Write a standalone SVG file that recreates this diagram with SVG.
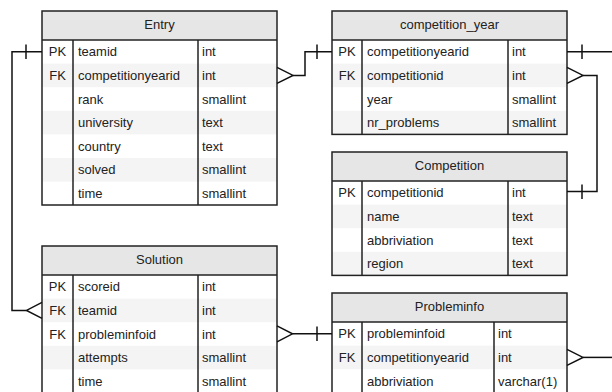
<svg xmlns="http://www.w3.org/2000/svg" width="612" height="392" viewBox="0 0 612 392">
<style>
text{font-family:"Liberation Sans",Arial,sans-serif;font-size:13px;fill:#222}
.hd{fill:#e6e6e6}
.alt{fill:#f4f4f4}
.bg{fill:#ffffff}
.frame{fill:none;stroke:#222;stroke-width:1.5}
.div{stroke:#222;stroke-width:1.5}
.c{text-anchor:middle}
.conn path,.conn line{fill:none;stroke:#111;stroke-width:1.5}
</style>
<rect width="612" height="392" fill="#fff"/>

<!-- Entry -->
<g id="entry">
<rect class="bg" x="42" y="11" width="235" height="194"/>
<rect class="hd" x="42" y="11" width="235" height="29"/>
<rect class="alt" x="42" y="63.6" width="235" height="23.6"/>
<rect class="alt" x="42" y="110.8" width="235" height="23.6"/>
<rect class="alt" x="42" y="158" width="235" height="23.6"/>
<rect class="frame" x="42" y="11" width="235" height="194"/>
<line class="div" x1="42" y1="40" x2="277" y2="40"/>
<line class="div" x1="73" y1="40" x2="73" y2="205"/>
<line class="div" x1="198" y1="40" x2="198" y2="205"/>
<text class="c" x="159.5" y="29">Entry</text>
<text class="c" x="57.5" y="56.3">PK</text><text x="78" y="56.3">teamid</text><text x="202" y="56.3">int</text>
<text class="c" x="57.5" y="79.9">FK</text><text x="78" y="79.9">competitionyearid</text><text x="202" y="79.9">int</text>
<text x="78" y="103.5">rank</text><text x="202" y="103.5">smallint</text>
<text x="78" y="127.1">university</text><text x="202" y="127.1">text</text>
<text x="78" y="150.7">country</text><text x="202" y="150.7">text</text>
<text x="78" y="174.3">solved</text><text x="202" y="174.3">smallint</text>
<text x="78" y="197.9">time</text><text x="202" y="197.9">smallint</text>
</g>

<!-- competition_year -->
<g id="competition_year">
<rect class="bg" x="332" y="11" width="235" height="123.4"/>
<rect class="hd" x="332" y="11" width="235" height="29"/>
<rect class="alt" x="332" y="63.6" width="235" height="23.6"/>
<rect class="alt" x="332" y="110.8" width="235" height="23.6"/>
<rect class="frame" x="332" y="11" width="235" height="123.4"/>
<line class="div" x1="332" y1="40" x2="567" y2="40"/>
<line class="div" x1="362" y1="40" x2="362" y2="134.4"/>
<line class="div" x1="508" y1="40" x2="508" y2="134.4"/>
<text class="c" x="449.5" y="29">competition_year</text>
<text class="c" x="347" y="56.3">PK</text><text x="367" y="56.3">competitionyearid</text><text x="512" y="56.3">int</text>
<text class="c" x="347" y="79.9">FK</text><text x="367" y="79.9">competitionid</text><text x="512" y="79.9">int</text>
<text x="367" y="103.5">year</text><text x="512" y="103.5">smallint</text>
<text x="367" y="127.1">nr_problems</text><text x="512" y="127.1">smallint</text>
</g>

<!-- Competition -->
<g id="competition">
<rect class="bg" x="332" y="152" width="235" height="123.4"/>
<rect class="hd" x="332" y="152" width="235" height="29"/>
<rect class="alt" x="332" y="204.6" width="235" height="23.6"/>
<rect class="alt" x="332" y="251.8" width="235" height="23.6"/>
<rect class="frame" x="332" y="152" width="235" height="123.4"/>
<line class="div" x1="332" y1="181" x2="567" y2="181"/>
<line class="div" x1="362" y1="181" x2="362" y2="275.4"/>
<line class="div" x1="508" y1="181" x2="508" y2="275.4"/>
<text class="c" x="449.5" y="170">Competition</text>
<text class="c" x="347" y="197.3">PK</text><text x="367" y="197.3">competitionid</text><text x="512" y="197.3">int</text>
<text x="367" y="220.9">name</text><text x="512" y="220.9">text</text>
<text x="367" y="244.5">abbriviation</text><text x="512" y="244.5">text</text>
<text x="367" y="268.1">region</text><text x="512" y="268.1">text</text>
</g>

<!-- Solution -->
<g id="solution">
<rect class="bg" x="42" y="246" width="235" height="150"/>
<rect class="hd" x="42" y="246" width="235" height="29"/>
<rect class="alt" x="42" y="298.6" width="235" height="23.6"/>
<rect class="alt" x="42" y="345.8" width="235" height="23.6"/>
<rect class="frame" x="42" y="246" width="235" height="150"/>
<line class="div" x1="42" y1="275" x2="277" y2="275"/>
<line class="div" x1="73" y1="275" x2="73" y2="396"/>
<line class="div" x1="198" y1="275" x2="198" y2="396"/>
<text class="c" x="159.5" y="264">Solution</text>
<text class="c" x="57.5" y="291.3">PK</text><text x="78" y="291.3">scoreid</text><text x="202" y="291.3">int</text>
<text class="c" x="57.5" y="314.9">FK</text><text x="78" y="314.9">teamid</text><text x="202" y="314.9">int</text>
<text class="c" x="57.5" y="338.5">FK</text><text x="78" y="338.5">probleminfoid</text><text x="202" y="338.5">int</text>
<text x="78" y="362.1">attempts</text><text x="202" y="362.1">smallint</text>
<text x="78" y="385.7">time</text><text x="202" y="385.7">smallint</text>
</g>

<!-- Probleminfo -->
<g id="probleminfo">
<rect class="bg" x="332" y="293" width="235" height="103"/>
<rect class="hd" x="332" y="293" width="235" height="29"/>
<rect class="alt" x="332" y="345.6" width="235" height="23.6"/>
<rect class="frame" x="332" y="293" width="235" height="103"/>
<line class="div" x1="332" y1="322" x2="567" y2="322"/>
<line class="div" x1="362" y1="322" x2="362" y2="396"/>
<line class="div" x1="494" y1="322" x2="494" y2="396"/>
<text class="c" x="449.5" y="311">Probleminfo</text>
<text class="c" x="347" y="338.3">PK</text><text x="367" y="338.3">probleminfoid</text><text x="498" y="338.3">int</text>
<text class="c" x="347" y="361.9">FK</text><text x="367" y="361.9">competitionyearid</text><text x="498" y="361.9">int</text>
<text x="367" y="385.5">abbriviation</text><text x="498" y="385.5">varchar(1)</text>
</g>

<!-- Connectors -->
<g id="connectors" class="conn">
<!-- Entry.teamid -> Solution.teamid -->
<path d="M42,51.8 H12 V310.4 H26.5"/>
<line x1="26" y1="44.5" x2="26" y2="59"/>
<path d="M42,302.4 L26.5,310.4 L42,318.4"/>
<!-- Entry.competitionyearid -> competition_year.competitionyearid -->
<path d="M277,67.4 L293,75.4 L277,83.4"/>
<path d="M293,75.4 H305 V51.8 H332"/>
<line x1="317" y1="44.5" x2="317" y2="59"/>
<!-- competition_year.competitionyearid -> off right -->
<path d="M567,51.8 H612"/>
<line x1="582" y1="44.5" x2="582" y2="59"/>
<!-- competition_year.competitionid -> Competition.competitionid -->
<path d="M567,67.4 L583,75.4 L567,83.4"/>
<path d="M583,75.4 H597 V191.5 H567"/>
<line x1="582" y1="184.5" x2="582" y2="199"/>
<!-- Solution.probleminfoid -> Probleminfo.probleminfoid -->
<path d="M277,325.8 L292.5,333.8 L277,341.8"/>
<path d="M292.5,333.8 H332"/>
<line x1="317" y1="326.5" x2="317" y2="341"/>
<!-- Probleminfo.competitionyearid -> off right -->
<path d="M567,349.4 L583,357.4 L567,365.4"/>
<path d="M583,357.4 H612"/>
</g>
</svg>
